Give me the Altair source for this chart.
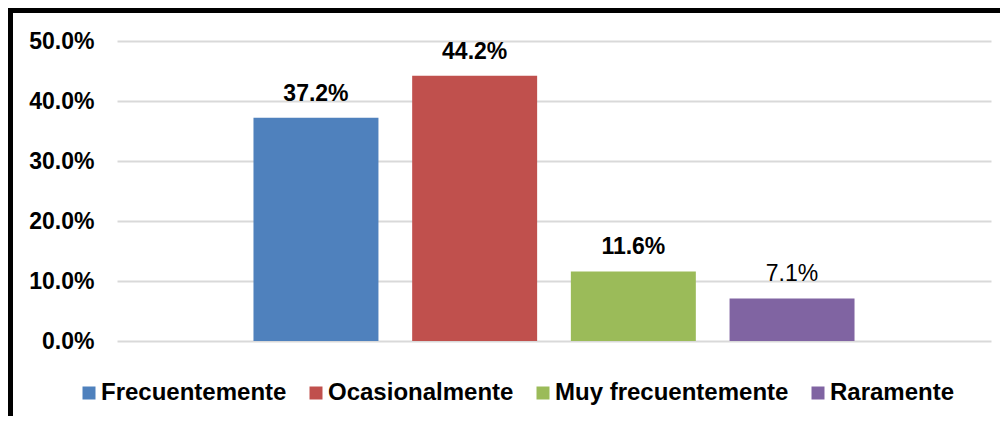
import altair as alt
import pandas as pd

categories = ["Frecuentemente", "Ocasionalmente", "Muy frecuentemente", "Raramente"]
values = [0.372, 0.442, 0.116, 0.071]
label_bold = [True, True, True, False]
colors = ["#4F81BD", "#C0504D", "#9BBB59", "#8064A2"]
y_ticks = [0.0, 0.1, 0.2, 0.3, 0.4, 0.5]

df = pd.DataFrame({"cat": categories, "val": values, "bold": label_bold})

FONT = "Liberation Sans"

x_enc = alt.X("cat:N", sort=categories,
              scale=alt.Scale(paddingInner=0.2125, paddingOuter=0.86),
              axis=None)
y_enc = alt.Y("val:Q", scale=alt.Scale(domain=[0, 0.5], nice=False),
              axis=alt.Axis(values=y_ticks, format=".1%", title=None,
                            domain=False, ticks=False, tickSize=0,
                            labelPadding=23, labelFont=FONT, labelFontSize=23,
                            labelFontWeight="bold", labelColor="#000000",
                            grid=True, gridColor="#D9D9D9", gridWidth=2))

base = alt.Chart(df)

bars = base.mark_bar().encode(
    x=x_enc,
    y=y_enc,
    color=alt.Color("cat:N", sort=categories,
                    scale=alt.Scale(domain=categories, range=colors),
                    legend=alt.Legend(title=None, orient="none", direction="horizontal",
                                      legendX=-40, legendY=340, padding=0,
                                      symbolType="square", symbolSize=169,
                                      symbolStrokeWidth=0, symbolOpacity=1,
                                      labelFont=FONT, labelFontSize=24,
                                      labelFontWeight="bold", labelColor="#000000",
                                      labelOffset=0, columnPadding=17,
                                      labelLimit=400)),
)

labels_bold = base.transform_filter("datum.bold").mark_text(
    font=FONT, fontSize=23, fontWeight="bold", color="#000000",
    baseline="alphabetic", dy=-17
).encode(x=x_enc, y=y_enc, text=alt.Text("val:Q", format=".1%"))

labels_normal = base.transform_filter("!datum.bold").mark_text(
    font=FONT, fontSize=23, fontWeight="normal", color="#000000",
    baseline="alphabetic", dy=-17
).encode(x=x_enc, y=y_enc, text=alt.Text("val:Q", format=".1%"))

frame_data = alt.Data(values=[{"a": 1}])
frame_top = alt.Chart(frame_data).mark_rule(color="#000000", strokeWidth=5).encode(
    x=alt.value(-106.5), x2=alt.value(900), y=alt.value(-30.5))
frame_left = alt.Chart(frame_data).mark_rule(color="#000000", strokeWidth=5).encode(
    x=alt.value(-106.5), y=alt.value(-33), y2=alt.value(420))

chart = alt.layer(bars, labels_bold, labels_normal, frame_top, frame_left).properties(
    width=874, height=300,
    autosize=alt.AutoSizeParams(type="none"),
    padding={"left": 109, "top": 33, "right": 9, "bottom": 75},
    background="#FFFFFF",
).configure_view(stroke=None)

chart.save("out.html", embed_options={"renderer": "svg", "actions": False})
